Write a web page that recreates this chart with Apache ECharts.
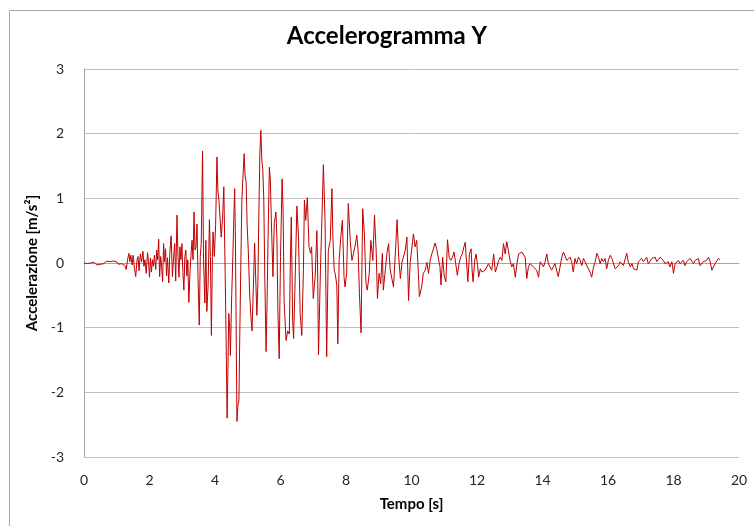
<!DOCTYPE html>
<html>
<head>
<meta charset="utf-8">
<title>Accelerogramma Y</title>
<script src="https://cdn.jsdelivr.net/npm/echarts@6/dist/echarts.min.js"></script>
<style>
  html, body { margin: 0; padding: 0; background: #ffffff; }
  #chart { width: 754px; height: 526px; }
</style>
</head>
<body>
<div id="chart"></div>
<script>
// Recorded time instants [s]
const times = [
  0.00,0.05,0.10,0.15,0.20,0.25,0.30,0.35,0.40,0.45,0.50,0.55,0.60,0.65,0.70,0.75,0.80,0.85,0.90,0.95,
  1.00,1.05,1.10,1.15,1.20,1.25,1.29,1.33,1.37,1.40,1.43,1.47,1.50,1.54,1.58,1.62,1.65,1.68,1.72,1.76,
  1.80,1.83,1.86,1.90,1.94,1.97,2.00,2.03,2.06,2.09,2.12,2.15,2.19,2.22,2.25,2.28,2.31,2.34,2.37,2.40,
  2.43,2.46,2.49,2.52,2.55,2.59,2.62,2.66,2.70,2.73,2.77,2.80,2.84,2.87,2.90,2.93,2.96,2.99,3.02,3.05,
  3.08,3.11,3.14,3.17,3.20,3.24,3.27,3.30,3.33,3.36,3.39,3.42,3.45,3.48,3.52,3.55,3.58,3.62,3.65,3.69,
  3.72,3.75,3.79,3.83,3.86,3.89,3.92,3.94,3.98,4.02,4.06,4.09,4.12,4.16,4.19,4.23,4.27,4.31,4.34,4.37,
  4.40,4.42,4.45,4.47,4.51,4.54,4.57,4.60,4.62,4.64,4.67,4.70,4.73,4.76,4.79,4.82,4.86,4.89,4.92,4.95,
  4.98,5.02,5.06,5.10,5.13,5.17,5.21,5.24,5.28,5.31,5.34,5.37,5.40,5.43,5.46,5.49,5.52,5.56,5.59,5.62,
  5.66,5.69,5.72,5.77,5.81,5.86,5.89,5.92,5.96,6.00,6.05,6.08,6.11,6.17,6.22,6.27,6.30,6.33,6.37,6.40,
  6.44,6.50,6.55,6.60,6.65,6.70,6.73,6.77,6.82,6.87,6.92,6.95,7.00,7.06,7.11,7.13,7.16,7.22,7.26,7.31,
  7.36,7.41,7.46,7.52,7.57,7.60,7.64,7.67,7.72,7.75,7.79,7.84,7.89,7.94,7.97,8.02,8.07,8.13,8.18,8.23,
  8.28,8.33,8.37,8.41,8.46,8.51,8.56,8.61,8.65,8.71,8.76,8.82,8.87,8.92,8.96,9.01,9.06,9.11,9.14,9.19,
  9.25,9.30,9.35,9.40,9.45,9.50,9.56,9.61,9.66,9.71,9.76,9.81,9.86,9.91,9.96,10.01,10.06,10.11,10.16,10.21,
  10.24,10.31,10.36,10.42,10.47,10.52,10.57,10.62,10.67,10.72,10.77,10.82,10.87,10.90,10.95,11.00,11.05,11.10,11.15,11.20,
  11.25,11.30,11.35,11.40,11.45,11.50,11.55,11.60,11.64,11.69,11.72,11.77,11.82,11.85,11.88,11.93,11.97,12.02,12.05,12.10,
  12.15,12.20,12.25,12.30,12.35,12.40,12.45,12.51,12.56,12.61,12.66,12.71,12.76,12.81,12.86,12.91,12.96,13.01,13.06,13.11,
  13.17,13.22,13.27,13.32,13.37,13.42,13.47,13.52,13.57,13.62,13.67,13.72,13.77,13.82,13.88,13.93,13.98,14.03,14.08,14.13,
  14.18,14.23,14.28,14.33,14.38,14.43,14.48,14.54,14.59,14.64,14.69,14.74,14.79,14.84,14.89,14.94,14.99,15.04,15.10,15.15,
  15.20,15.25,15.30,15.35,15.40,15.45,15.50,15.56,15.61,15.66,15.71,15.76,15.81,15.86,15.91,15.96,16.01,16.07,16.12,16.17,
  16.22,16.27,16.32,16.37,16.42,16.47,16.52,16.57,16.62,16.68,16.73,16.78,16.83,16.88,16.93,16.98,17.03,17.08,17.13,17.18,
  17.23,17.29,17.34,17.39,17.44,17.49,17.54,17.59,17.64,17.69,17.74,17.79,17.84,17.89,17.95,18.00,18.05,18.10,18.15,18.20,
  18.25,18.30,18.35,18.40,18.45,18.51,18.56,18.61,18.66,18.71,18.76,18.81,18.86,18.91,18.96,19.01,19.07,19.12,19.17,19.22,
  19.27,19.32,19.37,19.42
];

// Ground acceleration [m/s^2] at each instant
const accel = [
  0.00,0.01,-0.01,0.01,0.00,-0.02,0.01,-0.01,-0.03,0.00,-0.02,0.01,-0.01,0.02,0.03,0.00,0.02,-0.01,0.03,0.00,
  0.02,-0.02,0.01,-0.01,0.02,-0.04,-0.10,0.05,0.15,0.02,0.12,-0.03,0.12,-0.08,-0.21,0.05,0.10,-0.12,0.14,0.02,
  0.18,-0.05,0.05,-0.16,0.16,0.02,-0.22,0.08,-0.14,0.05,-0.05,0.12,-0.10,0.20,0.05,0.37,-0.21,0.10,-0.05,-0.29,
  0.30,0.02,0.22,-0.20,0.08,-0.31,0.15,0.42,-0.21,0.05,0.30,-0.28,0.74,0.10,-0.22,0.25,0.05,0.30,-0.15,-0.42,
  0.10,0.20,-0.20,0.05,-0.61,-0.10,0.15,0.35,0.05,0.79,0.20,0.25,0.60,-0.20,-0.96,0.10,0.30,1.73,0.05,-0.62,
  0.35,-0.75,-0.35,0.67,0.10,-1.12,0.10,0.48,0.10,0.60,1.64,1.10,0.97,0.95,0.40,0.70,1.18,-0.15,-1.20,-2.40,
  -1.50,-0.78,-1.00,-1.43,-0.50,0.00,0.60,1.15,0.50,-0.60,-2.45,-2.20,-2.12,-1.00,0.00,0.97,1.40,1.69,1.33,1.26,
  0.60,0.15,-0.50,-0.85,-1.05,-0.40,0.31,-0.20,-0.81,-0.30,0.80,1.70,2.05,1.59,1.44,0.97,-0.20,-1.37,-0.60,0.40,
  1.48,1.28,0.66,-0.21,0.61,0.79,0.40,-0.73,-1.48,0.10,1.30,0.80,-0.58,-1.20,-1.05,-1.10,0.00,0.71,-0.88,-1.17,
  -0.40,0.88,0.40,-0.78,-1.12,-0.10,0.97,0.66,1.01,0.25,0.15,0.25,-0.55,-0.20,0.50,0.05,-1.42,-0.10,0.60,1.52,
  0.66,-1.45,0.20,0.35,1.15,0.40,-0.12,-0.16,-0.35,-1.25,0.04,0.40,0.66,-0.22,-0.37,-0.16,0.92,0.35,0.04,0.15,
  0.27,0.43,0.20,-0.47,-1.08,0.84,0.46,-0.32,-0.42,-0.16,0.35,0.04,0.74,0.20,-0.55,-0.16,-0.32,0.15,-0.42,-0.16,
  0.15,0.30,-0.11,-0.24,-0.37,0.09,0.67,0.09,-0.24,0.01,0.04,0.20,0.40,-0.58,0.01,0.04,0.45,0.25,0.35,-0.16,
  -0.52,-0.37,-0.16,-0.11,0.01,-0.16,0.04,0.14,0.22,0.31,0.22,0.25,-0.06,-0.34,0.09,-0.21,-0.29,0.36,0.09,0.04,
  0.09,0.17,-0.01,-0.19,-0.01,0.09,0.14,0.25,0.32,-0.06,-0.29,0.14,0.22,-0.11,-0.29,0.04,0.14,-0.04,-0.22,-0.09,
  -0.14,-0.16,-0.11,-0.09,-0.01,0.02,-0.11,0.14,-0.14,-0.06,0.04,0.09,0.04,0.30,0.14,0.33,0.19,0.04,-0.06,-0.01,
  -0.22,-0.01,0.14,0.17,0.17,0.14,0.09,-0.24,-0.06,-0.01,0.02,-0.06,-0.09,-0.11,-0.22,0.02,0.04,-0.06,0.02,0.14,
  -0.01,0.02,-0.11,-0.06,-0.01,-0.11,-0.21,-0.24,0.09,0.17,0.14,0.04,0.02,0.09,0.02,-0.14,0.07,-0.01,0.09,0.04,
  -0.04,0.07,0.02,0.00,-0.09,-0.14,-0.22,-0.06,0.02,0.15,0.09,-0.01,0.07,0.02,0.07,-0.09,0.04,0.12,0.07,0.04,
  -0.09,-0.11,-0.04,0.02,0.04,-0.04,-0.01,0.15,0.02,-0.06,-0.01,-0.09,-0.06,-0.11,0.02,-0.01,0.07,0.02,0.04,0.09,
  -0.01,0.02,0.07,0.04,0.09,0.02,0.04,0.09,0.12,0.04,-0.01,-0.04,0.02,-0.06,0.02,-0.16,-0.01,0.02,0.04,-0.01,
  0.02,0.04,-0.04,0.02,-0.01,0.07,0.10,-0.01,0.04,0.02,0.07,-0.04,-0.06,0.02,-0.01,0.04,0.09,0.02,-0.11,-0.09,
  -0.01,0.02,0.07,0.05
];

// Axis tick values
const xTicks = [0, 2, 4, 6, 8, 10, 12, 14, 16, 18, 20];
const yTicks = [-3, -2, -1, 0, 1, 2, 3];

const seriesData = times.map((t, i) => [t, accel[i]]);

const FONT = 'Lato, "Open Sans", sans-serif';
const chart = echarts.init(document.getElementById('chart'), null, { renderer: 'canvas' });

chart.setOption({
  animation: false,
  backgroundColor: '#ffffff',
  graphic: [{
    type: 'rect',
    silent: true,
    shape: { x: 9.5, y: 10.5, width: 800, height: 600 },
    style: { fill: 'none', stroke: '#a6a6a6', lineWidth: 1 }
  }],
  title: {
    text: 'Accelerogramma Y',
    left: 382,
    top: 19,
    textAlign: 'center',
    textStyle: { fontFamily: FONT, fontWeight: 'bold', fontSize: 24, color: '#000000' }
  },
  grid: { left: 84, right: 15, top: 69, bottom: 69, containLabel: false },
  xAxis: {
    type: 'value',
    min: xTicks[0],
    max: xTicks[xTicks.length - 1],
    interval: 2,
    name: 'Tempo [s]',
    nameLocation: 'middle',
    nameGap: 40,
    nameTextStyle: { fontFamily: FONT, fontWeight: 'bold', fontSize: 15, color: '#000000' },
    axisLine: { show: true, lineStyle: { color: '#a6a6a6', width: 1 } },
    axisTick: { show: false },
    splitLine: { show: false },
    axisLabel: { fontFamily: FONT, fontSize: 14, color: '#262626', margin: 16 }
  },
  yAxis: {
    type: 'value',
    min: yTicks[0],
    max: yTicks[yTicks.length - 1],
    interval: 1,
    name: 'Accelerazione [m/s²]',
    nameLocation: 'middle',
    nameRotate: 90,
    nameGap: 34,
    nameTextStyle: { fontFamily: FONT, fontWeight: 'bold', fontSize: 15, color: '#000000' },
    axisLine: { show: true, lineStyle: { color: '#a6a6a6', width: 1 } },
    axisTick: { show: false },
    splitLine: { show: true, lineStyle: { color: '#bfbfbf', width: 1 } },
    axisLabel: { fontFamily: FONT, fontSize: 14, color: '#262626', margin: 20 }
  },
  series: [{
    type: 'line',
    data: seriesData,
    showSymbol: false,
    smooth: false,
    lineStyle: { color: '#c00000', width: 1 },
    itemStyle: { color: '#c00000' }
  }]
});
</script>
</body>
</html>
